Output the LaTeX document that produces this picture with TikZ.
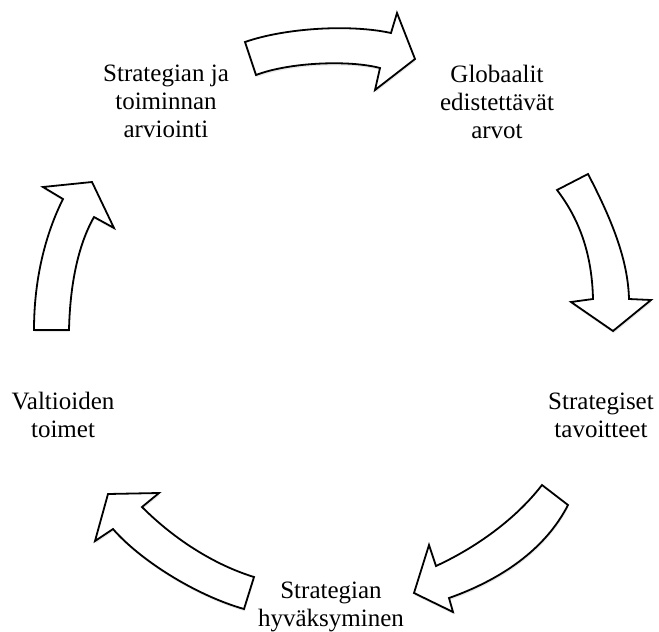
\documentclass[tikz,border=0pt]{standalone}
\usepackage{fontspec}
\setmainfont{Liberation Serif}
\usetikzlibrary{shadows}
\begin{document}
\begin{tikzpicture}[x=1pt,y=-1pt,
  blockarrow/.style={draw=black,line width=1.8pt,line join=miter,fill=white,
    drop shadow={opacity=0.18,shadow xshift=0.6pt,shadow yshift=-2.2pt}},
  lbl/.style={inner sep=0pt,anchor=base,font=\fontsize{25}{28}\selectfont}]
\useasboundingbox (0,0) rectangle (659,632);
\newcommand{\lines}[1]{\begin{tabular}[t]{@{}c@{}}#1\end{tabular}}
% labels
\node[lbl] (eval) at (166,81) {\lines{Strategian ja\\toiminnan\\arviointi}};
\node[lbl] (values) at (497,82) {\lines{Globaalit\\edistettävät\\arvot}};
\node[lbl] (goals) at (601,409) {\lines{Strategiset\\tavoitteet}};
\node[lbl] (accept) at (331,598) {\lines{Strategian\\hyväksyminen}};
\node[lbl] (states) at (63,409) {\lines{Valtioiden\\toimet}};
% top arrow
\path[blockarrow] (245,42) .. controls (285,28) and (350,24) .. (391,33)
  -- (397,13) -- (415,59) -- (375,90) -- (380,68)
  .. controls (350,60) and (290,62) .. (256,75) -- cycle;
% right arrow
\path[blockarrow] (557,190) -- (588,174) .. controls (612,220) and (628,260) .. (629,299)
  -- (651,300) -- (613,331) -- (571,302) -- (593,299)
  .. controls (592,255) and (580,220) .. (557,190) -- cycle;
% bottom-right arrow
\path[blockarrow] (542,485) .. controls (515,520) and (475,548) .. (436,566)
  -- (429,545) -- (414,593) -- (453,612) -- (449,598)
  .. controls (500,580) and (545,550) .. (568,505) -- cycle;
% bottom-left arrow
\path[blockarrow] (254,577) -- (244,609) .. controls (195,595) and (140,560) .. (113,529)
  -- (95,541) -- (108,494) -- (159,493) -- (142,507)
  .. controls (175,540) and (215,565) .. (254,577) -- cycle;
% left arrow
\path[blockarrow] (34,330) -- (69,330) .. controls (70,285) and (78,245) .. (94,217)
  -- (114,228) -- (92,182) -- (43,187) -- (63,199)
  .. controls (45,235) and (34,280) .. (34,330) -- cycle;
\end{tikzpicture}
\end{document}
